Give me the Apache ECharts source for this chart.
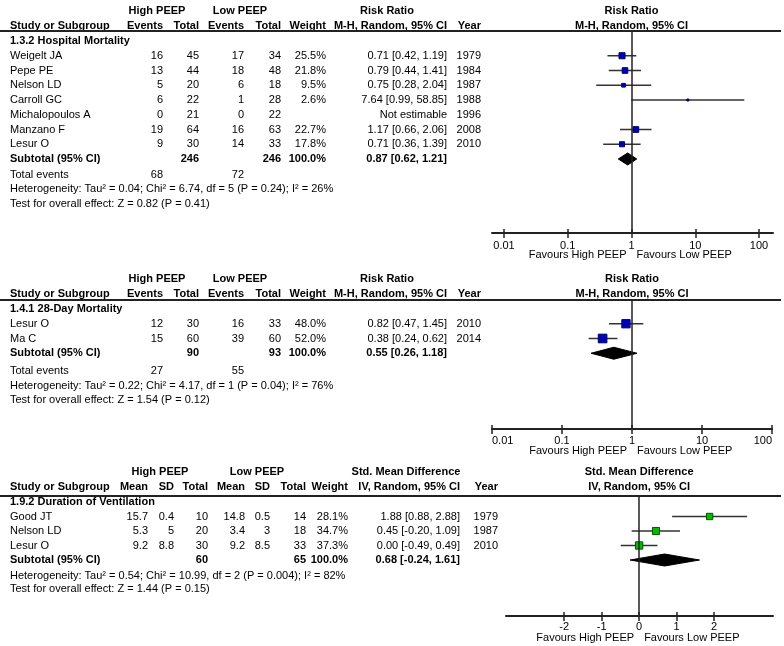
<!DOCTYPE html>
<html>
<head>
<meta charset="utf-8">
<script src="https://cdn.jsdelivr.net/npm/echarts@6/dist/echarts.min.js"></script>
<style>html,body{margin:0;padding:0;background:#fff}#c{width:784px;height:646px}</style>
</head>
<body>
<div id="c"></div>
<script>
// ================= DATA =================
// Panel 1 : 1.3.2 Hospital Mortality (Risk Ratio)
const p1Title = '1.3.2 Hospital Mortality';
const p1Studies = ['Weigelt JA', 'Pepe PE', 'Nelson LD', 'Carroll GC', 'Michalopoulos A', 'Manzano F', 'Lesur O'];
const p1EvHigh = [16, 13, 5, 6, 0, 19, 9];
const p1TotHigh = [45, 44, 20, 22, 21, 64, 30];
const p1EvLow = [17, 18, 6, 1, 0, 16, 14];
const p1TotLow = [34, 48, 18, 28, 22, 63, 33];
const p1Weight = [25.5, 21.8, 9.5, 2.6, null, 22.7, 17.8];
const p1Est = [0.71, 0.79, 0.75, 7.64, null, 1.17, 0.71];
const p1Lo = [0.42, 0.44, 0.28, 0.99, null, 0.66, 0.36];
const p1Hi = [1.19, 1.41, 2.04, 58.85, null, 2.06, 1.39];
const p1Year = [1979, 1984, 1987, 1988, 1996, 2008, 2010];
const p1SubTotals = [246, 246];
const p1SubEffect = [0.87, 0.62, 1.21];
const p1Events = [68, 72];
const p1Het = 'Heterogeneity: Tau\u00b2 = 0.04; Chi\u00b2 = 6.74, df = 5 (P = 0.24); I\u00b2 = 26%';
const p1Test = 'Test for overall effect: Z = 0.82 (P = 0.41)';

// Panel 2 : 1.4.1 28-Day Mortality (Risk Ratio)
const p2Title = '1.4.1 28-Day Mortality';
const p2Studies = ['Lesur O', 'Ma C'];
const p2EvHigh = [12, 15];
const p2TotHigh = [30, 60];
const p2EvLow = [16, 39];
const p2TotLow = [33, 60];
const p2Weight = [48.0, 52.0];
const p2Est = [0.82, 0.38];
const p2Lo = [0.47, 0.24];
const p2Hi = [1.45, 0.62];
const p2Year = [2010, 2014];
const p2SubTotals = [90, 93];
const p2SubEffect = [0.55, 0.26, 1.18];
const p2Events = [27, 55];
const p2Het = 'Heterogeneity: Tau\u00b2 = 0.22; Chi\u00b2 = 4.17, df = 1 (P = 0.04); I\u00b2 = 76%';
const p2Test = 'Test for overall effect: Z = 1.54 (P = 0.12)';

// Panel 3 : 1.9.2 Duration of Ventilation (Std. Mean Difference)
const p3Title = '1.9.2 Duration of Ventilation';
const p3Studies = ['Good JT', 'Nelson LD', 'Lesur O'];
const p3MeanHigh = [15.7, 5.3, 9.2];
const p3SdHigh = [0.4, 5, 8.8];
const p3TotHigh = [10, 20, 30];
const p3MeanLow = [14.8, 3.4, 9.2];
const p3SdLow = [0.5, 3, 8.5];
const p3TotLow = [14, 18, 33];
const p3Weight = [28.1, 34.7, 37.3];
const p3Est = [1.88, 0.45, 0.00];
const p3Lo = [0.88, -0.20, -0.49];
const p3Hi = [2.88, 1.09, 0.49];
const p3Year = [1979, 1987, 2010];
const p3SubTotals = [60, 65];
const p3SubEffect = [0.68, -0.24, 1.61];
const p3Het = 'Heterogeneity: Tau\u00b2 = 0.54; Chi\u00b2 = 10.99, df = 2 (P = 0.004); I\u00b2 = 82%';
const p3Test = 'Test for overall effect: Z = 1.44 (P = 0.15)';

// Axis tick labels
const rrTicks = [0.01, 0.1, 1, 10, 100];
const smdTicks = [-2, -1, 0, 1, 2];
const favours = ['Favours High PEEP', 'Favours Low PEEP'];

// ================= STYLE / LAYOUT =================
const FONT = '"Liberation Sans", Arial, Helvetica, sans-serif';
const INK = '#222';
const FS = 11;

function fmt2(v) { return v.toFixed(2); }
function ciText(e, l, h) { return fmt2(e) + ' [' + fmt2(l) + ', ' + fmt2(h) + ']'; }

function buildData(est, lo, hi, wt, sub, firstRow) {
  const d = [];
  for (let i = 0; i < est.length; i++) {
    if (est[i] == null) continue;
    d.push([est[i], lo[i], hi[i], firstRow + i, wt[i], 0]);
  }
  d.push([sub[0], sub[1], sub[2], firstRow + est.length, 100, 1]);
  return d;
}

function makeRender(fill, stroke) {
  return function (params, api) {
    const est = api.value(0), lo = api.value(1), hi = api.value(2), row = api.value(3), w = api.value(4), kind = api.value(5);
    const a = api.coord([lo, row]), b = api.coord([hi, row]), c = api.coord([est, row]);
    if (kind === 1) {
      const h = 6;
      return {
        type: 'polygon',
        shape: { points: [[a[0], a[1]], [c[0], c[1] - h], [b[0], b[1]], [c[0], c[1] + h]] },
        style: { fill: '#000', stroke: '#000', lineWidth: 1 }
      };
    }
    const s = Math.max(2, 1.2 * Math.sqrt(w));
    return {
      type: 'group',
      children: [
        { type: 'line', shape: { x1: a[0], y1: a[1], x2: b[0], y2: b[1] }, style: { stroke: '#333', lineWidth: 1.5 } },
        { type: 'rect', shape: { x: c[0] - s / 2, y: c[1] - s / 2, width: s, height: s }, style: { fill: fill, stroke: stroke, lineWidth: 1 } }
      ]
    };
  };
}

const yRanges = [[-0.678, 13.017], [-0.610, 8.136], [-0.414, 7.862]];

function tickAxis(gridIndex, base, inside) {
  const ax = Object.assign({
    gridIndex: gridIndex,
    position: 'bottom',
    splitLine: { show: false },
    axisLine: { show: false, onZero: false },
    axisTick: { show: true, inside: inside, length: inside ? 4 : 5, lineStyle: { color: INK, width: 1.5 } },
    axisLabel: { show: false }
  }, base);
  return ax;
}

const labelStyle = { show: true, color: '#000', fontSize: FS, fontFamily: FONT, margin: 6 };
function rrFmt(v) { const t = rrTicks.find(t => Math.abs(t - v) < t * 1e-6); return String(t != null ? t : v); }

const xAxes = [
  // panel 1 (log)
  tickAxis(0, { type: 'log', logBase: 10, min: 0.01, max: 100,
    axisLabel: Object.assign({}, labelStyle, { margin: 7, formatter: rrFmt }) }, false),
  tickAxis(0, { type: 'log', logBase: 10, min: 0.01, max: 100 }, true),
  // panel 2 (log)
  tickAxis(1, { type: 'log', logBase: 10, min: 0.01, max: 100,
    axisLine: { show: true, onZero: false, lineStyle: { color: INK, width: 2 } },
    axisLabel: Object.assign({}, labelStyle, { formatter: rrFmt, alignMinLabel: 'left', alignMaxLabel: 'right' }) }, false),
  tickAxis(1, { type: 'log', logBase: 10, min: 0.01, max: 100 }, true),
  // panel 3 (linear)
  tickAxis(2, { type: 'value', min: -3.55, max: 3.57,
    axisLine: { show: true, onZero: false, lineStyle: { color: INK, width: 2 } },
    axisLabel: Object.assign({}, labelStyle, { margin: 5, customValues: smdTicks, formatter: v => String(v) }) }, false),
  tickAxis(2, { type: 'value', min: -3.55, max: 3.57 }, true),
  // decorative extended axis line for panel 1
  { gridIndex: 3, type: 'value', position: 'bottom', min: 0, max: 1, splitLine: { show: false },
    axisLine: { show: true, onZero: false, lineStyle: { color: INK, width: 2 } }, axisTick: { show: false }, axisLabel: { show: false } }
];
xAxes[4].axisTick.customValues = smdTicks;
xAxes[5].axisTick.customValues = smdTicks;

const yAxes = yRanges.map((r, i) => ({ gridIndex: i, type: 'value', min: r[0], max: r[1], inverse: true, show: false }));
yAxes.push({ gridIndex: 3, type: 'value', min: 0, max: 1, show: false });

function refLine(v) {
  return {
    silent: true, symbol: ['none', 'none'], label: { show: false },
    lineStyle: { color: INK, width: 1.5, type: 'solid' }, animation: false,
    data: [{ xAxis: v }]
  };
}

const option = {
  animation: false,
  grid: [
    { left: 504, top: 31, width: 255, height: 202 },
    { left: 492, top: 300, width: 280, height: 129 },
    { left: 506, top: 496, width: 267, height: 120 },
    { left: 492, top: 31, width: 281, height: 202 }
  ],
  xAxis: xAxes,
  yAxis: yAxes,
  series: [
    { type: 'custom', xAxisIndex: 0, yAxisIndex: 0, clip: false, encode: { x: [0, 1, 2], y: 3 },
      renderItem: makeRender('#0000bb', '#000066'), data: buildData(p1Est, p1Lo, p1Hi, p1Weight, p1SubEffect, 1), markLine: refLine(1) },
    { type: 'custom', xAxisIndex: 2, yAxisIndex: 1, clip: false, encode: { x: [0, 1, 2], y: 3 },
      renderItem: makeRender('#0000bb', '#000066'), data: buildData(p2Est, p2Lo, p2Hi, p2Weight, p2SubEffect, 1), markLine: refLine(1) },
    { type: 'custom', xAxisIndex: 4, yAxisIndex: 2, clip: false, encode: { x: [0, 1, 2], y: 3 },
      renderItem: makeRender('#00bb00', '#005500'), data: buildData(p3Est, p3Lo, p3Hi, p3Weight, p3SubEffect, 1), markLine: refLine(0) }
  ]
};

const chart = echarts.init(document.getElementById('c'), null, { renderer: 'canvas' });
chart.setOption(option);

// ================= TABLE TEXT =================
function T(x, y, s, align, bold) {
  return { type: 'text', x: x, y: y, silent: true,
    style: { text: String(s), align: align, verticalAlign: 'middle', font: (bold ? 'bold ' : '') + FS + 'px ' + FONT, fill: '#000' } };
}
const els = [];
function yPx(axis, row) { return chart.convertToPixel({ yAxisIndex: axis }, row); }
function xPx(axis, v) { return chart.convertToPixel({ xAxisIndex: axis }, v); }

function binaryPanel(yAx, xAx, ref, P, rowsExtra) {
  const c = { study: 10, evH: 163, totH: 199, evL: 244, totL: 281, wt: 326, ci: 447, yr: 481 };
  const h1 = yPx(yAx, -2.05), h2 = yPx(yAx, -1.05);
  els.push(T(157, h1, 'High PEEP', 'center', true), T(240, h1, 'Low PEEP', 'center', true), T(387, h1, 'Risk Ratio', 'center', true));
  els.push(T(c.study, h2, 'Study or Subgroup', 'left', true), T(c.evH, h2, 'Events', 'right', true), T(c.totH, h2, 'Total', 'right', true),
    T(c.evL, h2, 'Events', 'right', true), T(c.totL, h2, 'Total', 'right', true), T(c.wt, h2, 'Weight', 'right', true),
    T(c.ci, h2, 'M-H, Random, 95% CI', 'right', true), T(c.yr, h2, 'Year', 'right', true));
  const xr = xPx(xAx, ref);
  els.push(T(xr, h1, 'Risk Ratio', 'center', true), T(xr, h2, 'M-H, Random, 95% CI', 'center', true));
  els.push(T(c.study, yPx(yAx, 0), P.title, 'left', true));
  for (let i = 0; i < P.studies.length; i++) {
    const y = yPx(yAx, i + 1);
    els.push(T(c.study, y, P.studies[i], 'left'), T(c.evH, y, P.evH[i], 'right'), T(c.totH, y, P.totH[i], 'right'),
      T(c.evL, y, P.evL[i], 'right'), T(c.totL, y, P.totL[i], 'right'), T(c.yr, y, P.yr[i], 'right'));
    if (P.est[i] == null) {
      els.push(T(c.ci, y, 'Not estimable', 'right'));
    } else {
      els.push(T(c.wt, y, P.wt[i].toFixed(1) + '%', 'right'), T(c.ci, y, ciText(P.est[i], P.lo[i], P.hi[i]), 'right'));
    }
  }
  const ys = yPx(yAx, P.studies.length + 1);
  els.push(T(c.study, ys, 'Subtotal (95% CI)', 'left', true), T(c.totH, ys, P.sub[0], 'right', true), T(c.totL, ys, P.sub[1], 'right', true),
    T(c.wt, ys, (100).toFixed(1) + '%', 'right', true), T(c.ci, ys, ciText(P.eff[0], P.eff[1], P.eff[2]), 'right', true));
  const ye = yPx(yAx, rowsExtra[0]);
  els.push(T(c.study, ye, 'Total events', 'left'), T(c.evH, ye, P.events[0], 'right'), T(c.evL, ye, P.events[1], 'right'));
  els.push(T(c.study, yPx(yAx, rowsExtra[1]), P.het, 'left'), T(c.study, yPx(yAx, rowsExtra[2]), P.test, 'left'));
}

binaryPanel(0, 0, 1, { title: p1Title, studies: p1Studies, evH: p1EvHigh, totH: p1TotHigh, evL: p1EvLow, totL: p1TotLow,
  wt: p1Weight, est: p1Est, lo: p1Lo, hi: p1Hi, yr: p1Year, sub: p1SubTotals, eff: p1SubEffect, events: p1Events, het: p1Het, test: p1Test },
  [9.1, 10.05, 11.05]);
binaryPanel(1, 2, 1, { title: p2Title, studies: p2Studies, evH: p2EvHigh, totH: p2TotHigh, evL: p2EvLow, totL: p2TotLow,
  wt: p2Weight, est: p2Est, lo: p2Lo, hi: p2Hi, yr: p2Year, sub: p2SubTotals, eff: p2SubEffect, events: p2Events, het: p2Het, test: p2Test },
  [4.2, 5.2, 6.2]);

// panel 3 (continuous)
(function () {
  const yAx = 2, xAx = 4;
  const c = { study: 10, mH: 148, sdH: 174, nH: 208, mL: 245, sdL: 270, nL: 306, wt: 348, ci: 460, yr: 498 };
  const h1 = yPx(yAx, -2.05), h2 = yPx(yAx, -1.05);
  els.push(T(160, h1, 'High PEEP', 'center', true), T(257, h1, 'Low PEEP', 'center', true), T(406, h1, 'Std. Mean Difference', 'center', true));
  els.push(T(c.study, h2, 'Study or Subgroup', 'left', true), T(c.mH, h2, 'Mean', 'right', true), T(c.sdH, h2, 'SD', 'right', true),
    T(c.nH, h2, 'Total', 'right', true), T(c.mL, h2, 'Mean', 'right', true), T(c.sdL, h2, 'SD', 'right', true),
    T(c.nL, h2, 'Total', 'right', true), T(c.wt, h2, 'Weight', 'right', true), T(c.ci, h2, 'IV, Random, 95% CI', 'right', true),
    T(c.yr, h2, 'Year', 'right', true));
  const xr = xPx(xAx, 0);
  els.push(T(xr, h1, 'Std. Mean Difference', 'center', true), T(xr, h2, 'IV, Random, 95% CI', 'center', true));
  els.push(T(c.study, yPx(yAx, 0), p3Title, 'left', true));
  for (let i = 0; i < p3Studies.length; i++) {
    const y = yPx(yAx, i + 1);
    els.push(T(c.study, y, p3Studies[i], 'left'), T(c.mH, y, p3MeanHigh[i], 'right'), T(c.sdH, y, p3SdHigh[i], 'right'),
      T(c.nH, y, p3TotHigh[i], 'right'), T(c.mL, y, p3MeanLow[i], 'right'), T(c.sdL, y, p3SdLow[i], 'right'),
      T(c.nL, y, p3TotLow[i], 'right'), T(c.wt, y, p3Weight[i].toFixed(1) + '%', 'right'),
      T(c.ci, y, ciText(p3Est[i], p3Lo[i], p3Hi[i]), 'right'), T(c.yr, y, p3Year[i], 'right'));
  }
  const ys = yPx(yAx, p3Studies.length + 1);
  els.push(T(c.study, ys, 'Subtotal (95% CI)', 'left', true), T(c.nH, ys, p3SubTotals[0], 'right', true), T(c.nL, ys, p3SubTotals[1], 'right', true),
    T(c.wt, ys, (100).toFixed(1) + '%', 'right', true), T(c.ci, ys, ciText(p3SubEffect[0], p3SubEffect[1], p3SubEffect[2]), 'right', true));
  els.push(T(c.study, yPx(yAx, 5.1), p3Het, 'left'), T(c.study, yPx(yAx, 6.0), p3Test, 'left'));
})();

// rules and favours labels
[[0, 0, 1], [1, 2, 1], [2, 4, 0]].forEach(([yAx, xAx, ref]) => {
  const top = Math.round(yPx(yAx, yRanges[yAx][0]));
  const bottom = yPx(yAx, yRanges[yAx][1]);
  els.push({ type: 'line', silent: true, shape: { x1: 0, y1: top, x2: 781, y2: top }, style: { stroke: INK, lineWidth: 2 } });
  const xr = xPx(xAx, ref);
  els.push(T(xr - 5, bottom + 22, favours[0], 'right'), T(xr + 5, bottom + 22, favours[1], 'left'));
});

chart.setOption({ graphic: { elements: els } });
</script>
</body>
</html>
